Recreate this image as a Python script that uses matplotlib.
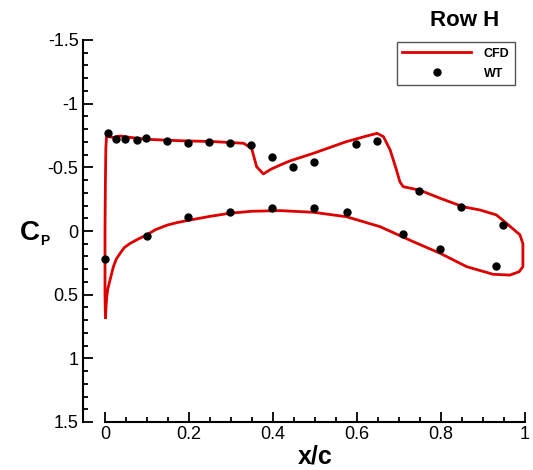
import matplotlib
matplotlib.use("Agg")
import matplotlib.pyplot as plt
from matplotlib.ticker import MultipleLocator, FuncFormatter

plt.rcParams['font.family'] = ['Liberation Sans', 'DejaVu Sans']

# CFD pressure distribution, closed loop: upper surface LE->TE, then lower TE->LE
cfd_x = [0.001, 0.000, 0.000, 0.001, 0.002, 0.004, 0.010, 0.020, 0.036, 0.060,
         0.099, 0.179, 0.258, 0.330, 0.349, 0.361, 0.377, 0.395, 0.417, 0.440,
         0.496, 0.575, 0.623, 0.648, 0.663, 0.679, 0.694, 0.702, 0.710, 0.750,
         0.798, 0.853, 0.893, 0.932, 0.956, 0.988, 0.995, 0.995, 0.986, 0.964,
         0.924, 0.861, 0.798, 0.734, 0.655, 0.575, 0.496, 0.417, 0.350, 0.298,
         0.250, 0.202, 0.170, 0.147, 0.120, 0.099, 0.078, 0.060, 0.046, 0.036,
         0.027, 0.020, 0.012, 0.007, 0.004, 0.001]
cfd_cp = [0.68, 0.50, 0.00, -0.40, -0.65, -0.76, -0.74, -0.735, -0.746, -0.735,
          -0.72, -0.709, -0.702, -0.689, -0.65, -0.505, -0.448, -0.485, -0.518, -0.55,
          -0.61, -0.702, -0.746, -0.767, -0.741, -0.636, -0.479, -0.387, -0.348, -0.32,
          -0.257, -0.19, -0.165, -0.126, -0.06, 0.03, 0.10, 0.28, 0.32, 0.346,
          0.34, 0.28, 0.175, 0.084, -0.034, -0.112, -0.147, -0.16, -0.155, -0.14,
          -0.115, -0.086, -0.065, -0.045, -0.01, 0.031, 0.065, 0.097, 0.13, 0.175,
          0.22, 0.28, 0.385, 0.45, 0.52, 0.68]

# wind tunnel taps
wt_x = [0.008, 0.026, 0.048, 0.077, 0.098, 0.147, 0.197, 0.248, 0.298, 0.347,
        0.397, 0.447, 0.497, 0.598, 0.648, 0.747, 0.848, 0.948,
        0.000, 0.099, 0.197, 0.298, 0.398, 0.498, 0.575, 0.709, 0.798, 0.930]
wt_cp = [-0.767, -0.72, -0.72, -0.715, -0.733, -0.709, -0.694, -0.699, -0.689, -0.675,
         -0.584, -0.503, -0.54, -0.686, -0.704, -0.314, -0.191, -0.047,
         0.217, 0.037, -0.112, -0.152, -0.183, -0.178, -0.147, 0.021, 0.144, 0.272]

fig = plt.figure(figsize=(5.33, 4.7), dpi=100)
ax = fig.add_axes([105 / 533, 48 / 470, 420 / 533, 382 / 470])

ax.plot(cfd_x, cfd_cp, color='#dd0000', lw=2, label='CFD', clip_on=False, zorder=2)
ax.plot(wt_x, wt_cp, 'o', color='black', ms=5, label='WT', clip_on=False, zorder=3)

ax.set_xlim(0, 1)
ax.set_ylim(1.5, -1.5)
ax.spines['top'].set_visible(False)
ax.spines['right'].set_visible(False)
ax.spines['left'].set_position(('outward', 16))
ax.spines['left'].set_linewidth(1.5)
ax.spines['bottom'].set_linewidth(1.5)

ax.xaxis.set_major_locator(MultipleLocator(0.2))
ax.xaxis.set_minor_locator(MultipleLocator(0.05))
ax.yaxis.set_major_locator(MultipleLocator(0.5))
ax.yaxis.set_minor_locator(MultipleLocator(0.1))
fmt = FuncFormatter(lambda v, p: '0' if abs(v) < 1e-9 else '%g' % round(v, 2))
ax.xaxis.set_major_formatter(fmt)
ax.yaxis.set_major_formatter(fmt)
ax.tick_params(which='both', direction='in', width=1.3, labelsize=13, pad=3)
ax.tick_params(which='major', length=7)
ax.tick_params(which='minor', length=3.5)

fig.text(30 / 533, 1 - 233 / 470, 'C', fontsize=20, fontweight='bold', ha='center', va='center')
fig.text(45 / 533, 1 - 241 / 470, 'P', fontsize=10, fontweight='bold', ha='center', va='center')
fig.text(315 / 533, 1 - 456 / 470, 'x/c', fontsize=18, fontweight='bold', ha='center', va='center')
fig.text(465 / 533, 1 - 21 / 470, 'Row H', fontsize=16, fontweight='bold', ha='center', va='center')

leg = ax.legend(loc='upper right', bbox_to_anchor=(515 / 533, 1 - 42 / 470),
                bbox_transform=fig.transFigure, prop={'weight': 'bold', 'size': 9},
                handlelength=5.5, handletextpad=1.0, borderpad=0.45, labelspacing=0.65,
                borderaxespad=0, fancybox=False, framealpha=1, edgecolor='#555555')
leg.get_frame().set_linewidth(1)

fig.savefig('out.png', dpi=100)
